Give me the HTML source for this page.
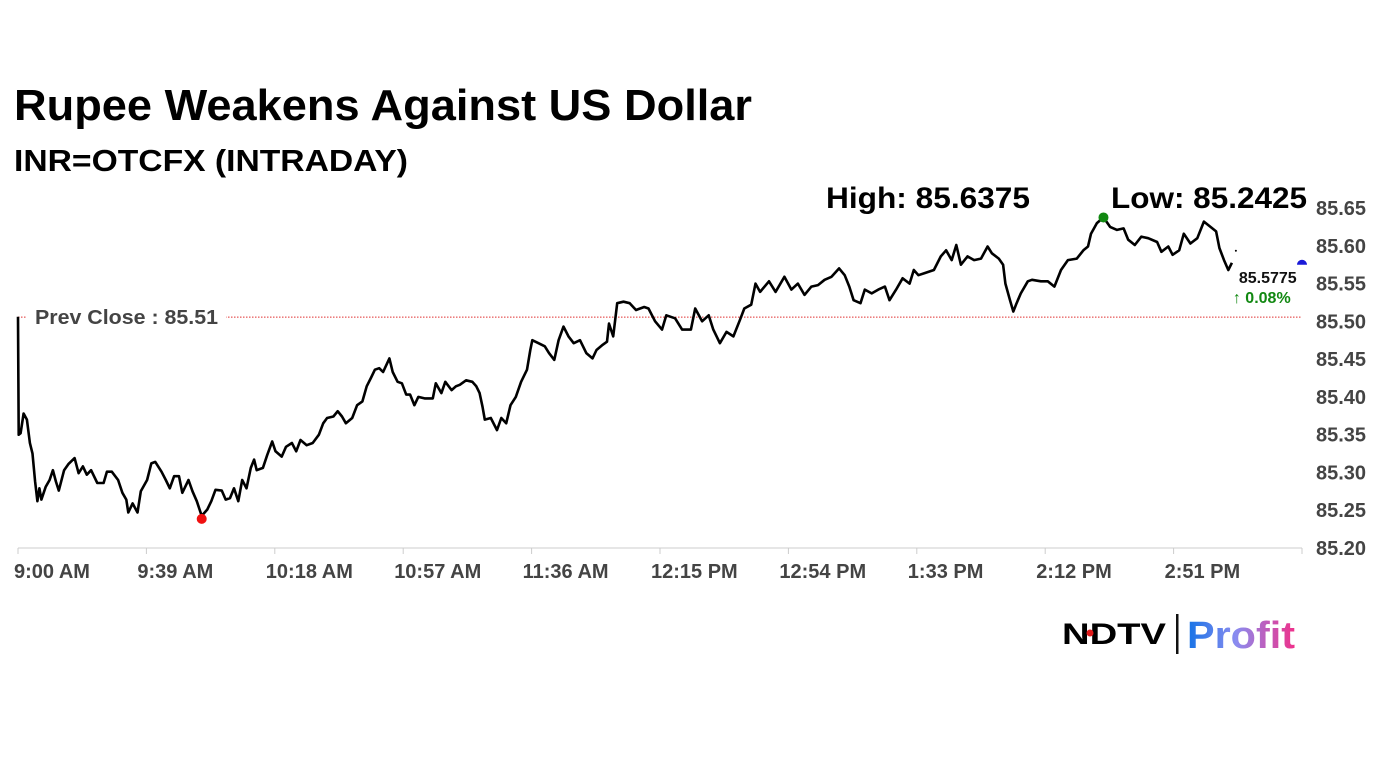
<!DOCTYPE html>
<html><head><meta charset="utf-8"><style>
html,body{margin:0;padding:0;background:#fff;}
svg{display:block;}
text{font-family:"Liberation Sans",sans-serif;}
</style></head><body>
<svg id="chart" width="1382" height="777" viewBox="0 0 1382 777" xmlns="http://www.w3.org/2000/svg">
<rect width="1382" height="777" fill="#fff"/>
<text x="14" y="120" font-size="44" font-weight="bold" textLength="738" lengthAdjust="spacingAndGlyphs">Rupee Weakens Against US Dollar</text>
<text x="14" y="171" font-size="31" font-weight="bold" textLength="394" lengthAdjust="spacingAndGlyphs">INR=OTCFX (INTRADAY)</text>
<text x="826" y="208" font-size="30" font-weight="bold" textLength="204" lengthAdjust="spacingAndGlyphs">High: 85.6375</text>
<text x="1111" y="208" font-size="30" font-weight="bold" textLength="196" lengthAdjust="spacingAndGlyphs">Low: 85.2425</text>
<g id="axes"></g>
<g id="plot"></g>
<g>
<defs><linearGradient id="pg" x1="0" x2="1" y1="0" y2="0"><stop offset="0" stop-color="#1573e6"/><stop offset="0.45" stop-color="#8a8cf0"/><stop offset="1" stop-color="#f0308a"/></linearGradient></defs>
<text x="1062" y="644" font-size="30" font-weight="bold" textLength="104" lengthAdjust="spacingAndGlyphs">NDTV</text>
<circle cx="1090" cy="633" r="3.5" fill="#e01a1a"/>
<rect x="1176" y="614" width="2.5" height="40" fill="#111"/>
<text x="1187" y="648" font-size="38" font-weight="bold" fill="url(#pg)" textLength="108" lengthAdjust="spacingAndGlyphs">Profit</text>
</g>
</svg>
<script>
const times = [0,0.2,0.8,1.7,2.7,3.6,4.4,5.2,5.9,6.5,7.1,8.4,9.6,10.6,11.5,12.4,14,15.3,17.2,18.4,19.7,20.9,22.2,24.1,26,27,28.5,30.4,31.7,32.9,33.5,34.8,36.3,37.3,39.2,40.5,41.7,43.6,44.9,46.1,47.4,48.9,49.9,51.8,53,54.3,55.8,57.5,58.7,60,61.9,63.1,64.4,65.6,66.9,68.1,69.4,70.7,71.7,72.5,74.4,75.7,77.2,78.2,80.1,81.4,83.2,84.5,85.8,87.7,89.5,91.4,92.7,93.9,95.8,97.1,98.4,99.6,101.5,103,104.6,105.9,107.2,108.4,109.7,110.9,112.8,113.8,115.3,116.6,117.9,119.1,120.4,121.6,123.5,126,126.9,128.6,129.8,131.7,133,134.2,136.1,138,139.2,140.2,141.1,141.8,143.6,145.5,146.8,148.3,149.6,151.2,152.8,154.6,155.6,156.2,158.1,160,161.3,162.9,164.2,165.7,167.2,168.8,170.7,172.6,174.5,175.7,177.6,178.9,179.5,180.8,182,183.9,185.8,187.7,190.2,191.5,193.5,195.6,196.9,199.6,201.7,204.4,205.7,207.8,209.8,211.2,213.2,215.2,217.3,219.3,220.6,222.7,224,225.4,228.1,230.1,232.8,234.9,236.9,238.9,241,243,245,247.1,249.4,251.1,252.5,253.8,255.9,257.2,259.3,261.3,263.3,264.7,266.7,268.7,270.8,272.1,273.5,275.5,278.2,280.3,281.9,283.6,285,286.4,288.4,290.4,292.5,294.5,295.8,297.9,299.2,299.9,301.3,302.3,303.3,304.6,306.7,308,310.7,312.8,314.8,316.8,318.9,321.6,323.6,325,325.9,327.7,329.7,331.7,333.8,335.8,337.2,339.2,341.2,343.3,346,347.3,349.4,350.7,352.7,354.1,356.1,358.2,360.2,362.2,363.9,364.9,366.3,367.6,368.7];
const prices = [85.506,85.350,85.352,85.378,85.370,85.339,85.325,85.288,85.262,85.279,85.264,85.281,85.290,85.303,85.288,85.276,85.303,85.311,85.319,85.299,85.308,85.297,85.303,85.286,85.286,85.301,85.301,85.290,85.273,85.264,85.247,85.259,85.247,85.275,85.290,85.312,85.314,85.301,85.290,85.279,85.295,85.295,85.273,85.290,85.275,85.262,85.2425,85.251,85.262,85.277,85.276,85.264,85.266,85.279,85.262,85.290,85.279,85.306,85.317,85.303,85.306,85.323,85.341,85.328,85.321,85.334,85.339,85.328,85.343,85.336,85.339,85.350,85.365,85.372,85.374,85.381,85.374,85.365,85.372,85.389,85.394,85.414,85.425,85.436,85.438,85.433,85.451,85.433,85.420,85.418,85.403,85.403,85.389,85.400,85.398,85.398,85.418,85.405,85.420,85.409,85.414,85.416,85.422,85.420,85.414,85.405,85.387,85.370,85.372,85.356,85.372,85.365,85.389,85.400,85.420,85.436,85.462,85.475,85.471,85.467,85.458,85.449,85.475,85.493,85.480,85.471,85.475,85.458,85.451,85.462,85.469,85.473,85.497,85.480,85.524,85.526,85.524,85.515,85.519,85.517,85.500,85.489,85.508,85.504,85.489,85.489,85.517,85.500,85.508,85.489,85.471,85.486,85.480,85.502,85.517,85.522,85.550,85.539,85.553,85.539,85.559,85.542,85.550,85.535,85.546,85.548,85.555,85.559,85.570,85.561,85.546,85.528,85.524,85.542,85.537,85.542,85.546,85.528,85.542,85.557,85.550,85.568,85.561,85.564,85.568,85.586,85.594,85.581,85.601,85.575,85.586,85.581,85.583,85.599,85.590,85.583,85.575,85.550,85.528,85.513,85.524,85.537,85.553,85.555,85.553,85.553,85.546,85.568,85.581,85.583,85.594,85.599,85.616,85.630,85.6375,85.625,85.621,85.623,85.608,85.601,85.612,85.610,85.605,85.592,85.599,85.588,85.594,85.616,85.603,85.610,85.632,85.625,85.619,85.597,85.581,85.568,85.5775];
const yTicks = [85.65,85.60,85.55,85.50,85.45,85.40,85.35,85.30,85.25,85.20];
const xTickTimes = [0,39,78,117,156,195,234,273,312,351];
const xTickLabels = ["9:00 AM","9:39 AM","10:18 AM","10:57 AM","11:36 AM","12:15 PM","12:54 PM","1:33 PM","2:12 PM","2:51 PM"];
const prevClose = 85.5055;
const lastPrice = 85.5775;
const changePct = "0.08%";

const NS="http://www.w3.org/2000/svg";
const X0=18, X1=1302, T0=0, T1=390;
const Y0=548, Y1=208, V0=85.20, V1=85.65;
const xs=t=>X0+(t-T0)/(T1-T0)*(X1-X0);
const ys=v=>Y0+(v-V0)/(V1-V0)*(Y1-Y0);
function mk(tag,attrs,parent,txt){const e=document.createElementNS(NS,tag);for(const k in attrs)e.setAttribute(k,attrs[k]);if(txt!=null)e.textContent=txt;parent.appendChild(e);return e;}
const axes=document.getElementById('axes'), plot=document.getElementById('plot');

let el=mk('line',{x1:X0,x2:X1,y1:Y0,y2:Y0,stroke:'#e6e6e6','stroke-width':2},axes);


yTicks.forEach(v=>{
  const t=mk('text',{x:1316,y:ys(v)+7,'font-size':20,'font-weight':'bold',fill:'#444'},axes,v.toFixed(2));
  
  
});
xTickTimes.forEach((tm,i)=>{
  const x=xs(tm);
  const l=mk('line',{x1:x,x2:x,y1:Y0,y2:Y0+6,stroke:'#ccc','stroke-width':1},axes);
  
  
  const t=mk('text',{x:i===0?x-4:x-9,y:578,'font-size':20,'font-weight':'bold',fill:'#444'},axes,xTickLabels[i]);
  
  
});
const endL=mk('line',{x1:X1,x2:X1,y1:Y0,y2:Y0+6,stroke:'#ccc'},axes);



const pc=ys(prevClose);
el=mk('line',{x1:X0,x2:X1,y1:pc,y2:pc,stroke:'#e03030','stroke-width':1,'stroke-dasharray':'1.5,1.5'},plot);


el=mk('rect',{x:26,y:pc-13,width:200,height:26,fill:'#fff'},plot);


el=mk('text',{x:35,y:pc+7,'font-size':20,'font-weight':'bold',fill:'#444',textLength:183,lengthAdjust:'spacingAndGlyphs'},plot,'Prev Close : '+prevClose.toFixed(2));



let d='';
times.forEach((tm,i)=>{d+=(i?'L':'M')+xs(tm).toFixed(1)+','+ys(prices[i]).toFixed(1);});
el=mk('path',{d:d,fill:'none',stroke:'#000','stroke-width':2.6,'stroke-linejoin':'round'},plot);



let lo=0,hi=0;prices.forEach((p,i)=>{if(p<prices[lo])lo=i;if(p>prices[hi])hi=i;});
el=mk('circle',{cx:xs(times[lo]),cy:ys(prices[lo])+3,r:5,fill:'#f01010'},plot);


el=mk('circle',{cx:xs(times[hi]),cy:ys(prices[hi]),r:5,fill:'#118811'},plot);



const lt=times[times.length-1];
el=mk('circle',{cx:xs(lt)+4,cy:ys(prices[prices.length-1])-12,r:1,fill:'#000'},plot);


el=mk('text',{x:xs(lt)+7,y:283,'font-size':16,'font-weight':'bold',fill:'#111'},plot,lastPrice.toFixed(4));


el=mk('text',{x:xs(lt)+1,y:303,'font-size':16,'font-weight':'bold',fill:'#118811'},plot,'\u2191 '+changePct);


const by=ys(lastPrice)+2;
el=mk('path',{d:`M${X1-5},${by} A5,5 0 0 1 ${X1+5},${by} Z`,fill:'#1a1ad8'},plot);


</script>
</body></html>
